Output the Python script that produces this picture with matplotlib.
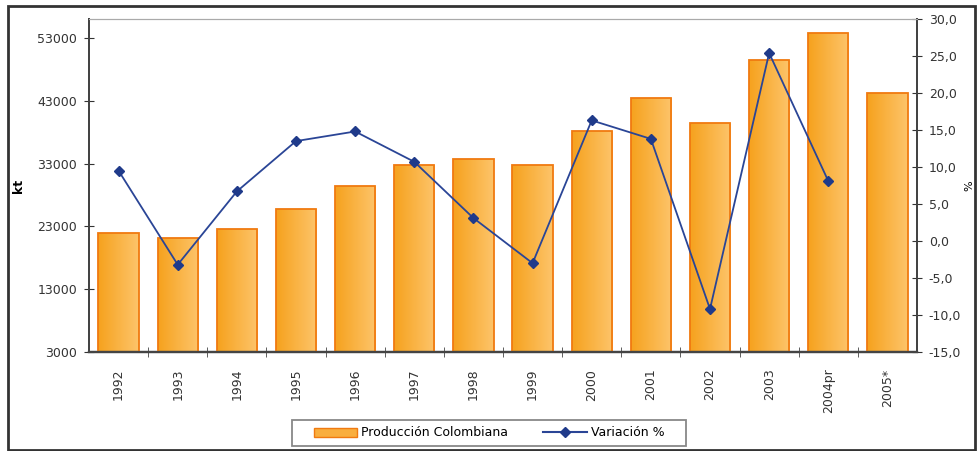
import numpy as np
import matplotlib.pyplot as plt
from matplotlib.patches import Rectangle
from matplotlib.colors import LinearSegmentedColormap
from matplotlib.ticker import FuncFormatter, FixedLocator
from matplotlib.lines import Line2D

years = ['1992', '1993', '1994', '1995', '1996', '1997', '1998', '1999',
         '2000', '2001', '2002', '2003', '2004pr', '2005*']
produccion = [22000, 21100, 22600, 25800, 29400, 32700, 33700, 32700,
              38200, 43400, 39500, 49500, 53800, 44200]
variacion = [9.5, -3.2, 6.7, 13.5, 14.8, 10.7, 3.1, -3.0,
             16.3, 13.8, -9.2, 25.4, 8.1]

fig = plt.figure(figsize=(9.77, 4.51), dpi=100)
ax = fig.add_axes([89 / 977, 1 - 352 / 451, 828 / 977, 333 / 451])
ax2 = ax.twinx()

base = 3000
x = np.arange(len(years))
edge = '#F07A10'
grad = LinearSegmentedColormap.from_list('g', ['#F6A21E', '#FDC46A'])
gimg = np.linspace(0, 1, 64).reshape(1, -1)

bars = ax.bar(x, np.array(produccion) - base, width=0.68, bottom=base,
              facecolor='none', edgecolor=edge, linewidth=1.3, zorder=3)
for b in bars:
    x0, w = b.get_x(), b.get_width()
    y0, y1 = b.get_y(), b.get_y() + b.get_height()
    im = ax.imshow(gimg, cmap=grad, aspect='auto', extent=(x0, x0 + w, y0, y1),
                   zorder=2, interpolation='bilinear')
    im.set_clip_path(b)

ax.set_xlim(-0.5, len(years) - 0.5)
ax.set_ylim(base, 56000)
ax.set_aspect('auto')
ax.set_yticks(np.arange(3000, 53001, 10000))
ax.set_xticks(x)
ax.set_xticklabels(years, rotation=90, fontsize=9, color='#333333')
ax.xaxis.set_minor_locator(FixedLocator(np.arange(0.5, len(years) - 0.5, 1)))
ax.tick_params(axis='x', which='major', length=0, pad=12)
ax.tick_params(axis='x', which='minor', length=7, direction='inout', color='#444444')
ax.tick_params(axis='y', length=7, direction='inout', labelsize=9,
               colors='#333333', pad=5)
ax.set_ylabel('kt', fontsize=9, fontweight='bold', labelpad=9)

ax2.plot(x[:len(variacion)], variacion, color='#2A4596', linewidth=1.3,
         marker='D', markersize=5.5, markerfacecolor='#1F3A8A',
         markeredgecolor='#1F3A8A', zorder=5)
ax2.set_ylim(-15, 30)
ax2.set_yticks(np.arange(-15, 30.1, 5))
ax2.yaxis.set_major_formatter(FuncFormatter(lambda v, p: f'{v:.1f}'.replace('.', ',')))
ax2.tick_params(axis='y', length=7, direction='inout', labelsize=9,
                colors='#333333', pad=5)
ax2.set_ylabel('%', fontsize=8, labelpad=2)

for a in (ax, ax2):
    a.spines['top'].set_color('#AAAAAA')
    a.spines['left'].set_color('#444444')
    a.spines['bottom'].set_color('#444444')
    a.spines['right'].set_color('#444444')
    a.spines['left'].set_linewidth(1.4)
    a.spines['bottom'].set_linewidth(1.6)
    a.spines['right'].set_linewidth(1.4)

handles = [Rectangle((0, 0), 1, 1, facecolor='#F9AE3E', edgecolor=edge),
           Line2D([], [], color='#2A4596', marker='D', markersize=5,
                  markerfacecolor='#1F3A8A', markeredgecolor='#1F3A8A')]
fig.legend(handles, ['Producción Colombiana', 'Variación %'],
           loc='center', bbox_to_anchor=(489 / 977, 1 - 433 / 451),
           ncol=2, fontsize=9, frameon=False, columnspacing=2.8,
           handlelength=3.5, handletextpad=0.3)
fig.patches.append(Rectangle((292 / 977, 1 - 446 / 451), 394 / 977, 26 / 451,
                             transform=fig.transFigure, fill=False,
                             edgecolor='#888888', linewidth=1.3))

fig.patches.append(Rectangle((8 / 977, 1 - 450 / 451), 967 / 977, 444 / 451,
                             transform=fig.transFigure, fill=False,
                             edgecolor='#333333', linewidth=2))

fig.savefig('out.png', dpi=100)
